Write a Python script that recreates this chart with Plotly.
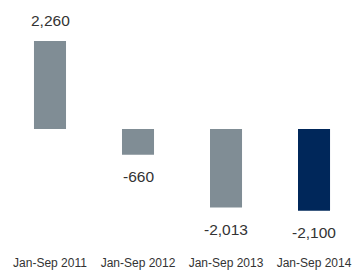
import plotly.graph_objects as go

categories = ["Jan-Sep 2011", "Jan-Sep 2012", "Jan-Sep 2013", "Jan-Sep 2014"]
values = [2260, -660, -2013, -2100]
value_labels = ["2,260", "-660", "-2,013", "-2,100"]
colors = ["#808d95", "#808d95", "#808d95", "#00275a"]

fig = go.Figure()
fig.add_trace(go.Bar(
    x=categories, y=values, marker=dict(color=colors, line=dict(width=0)),
    width=0.364, hoverinfo="skip",
))

for c, v, t in zip(categories, values, value_labels):
    fig.add_annotation(
        x=c, y=v, text=t, showarrow=False,
        yshift=21 if v >= 0 else -22,
        font=dict(family="Liberation Sans, Arial, sans-serif", size=15.5, color="#333333"),
    )

plot_h = 254
px_per_unit = 88 / 2260
base = 129
fig.update_layout(
    width=356, height=270,
    margin=dict(l=4, r=0, t=0, b=16),
    paper_bgcolor="white", plot_bgcolor="white",
    showlegend=False,
    xaxis=dict(
        range=[-0.5227, 3.477], showgrid=False, zeroline=False, showline=False,
        ticks="", tickfont=dict(family="Liberation Sans, Arial, sans-serif", size=12, color="#333333"),
        fixedrange=True, automargin=False,
    ),
    yaxis=dict(
        range=[-(plot_h - base) / px_per_unit, base / px_per_unit],
        showgrid=False, zeroline=False, showline=False, showticklabels=False,
        fixedrange=True,
    ),
)

fig.write_html("out.html", config={"displayModeBar": False},
               post_script="document.body.style.margin='0';document.body.style.overflow='hidden';")
